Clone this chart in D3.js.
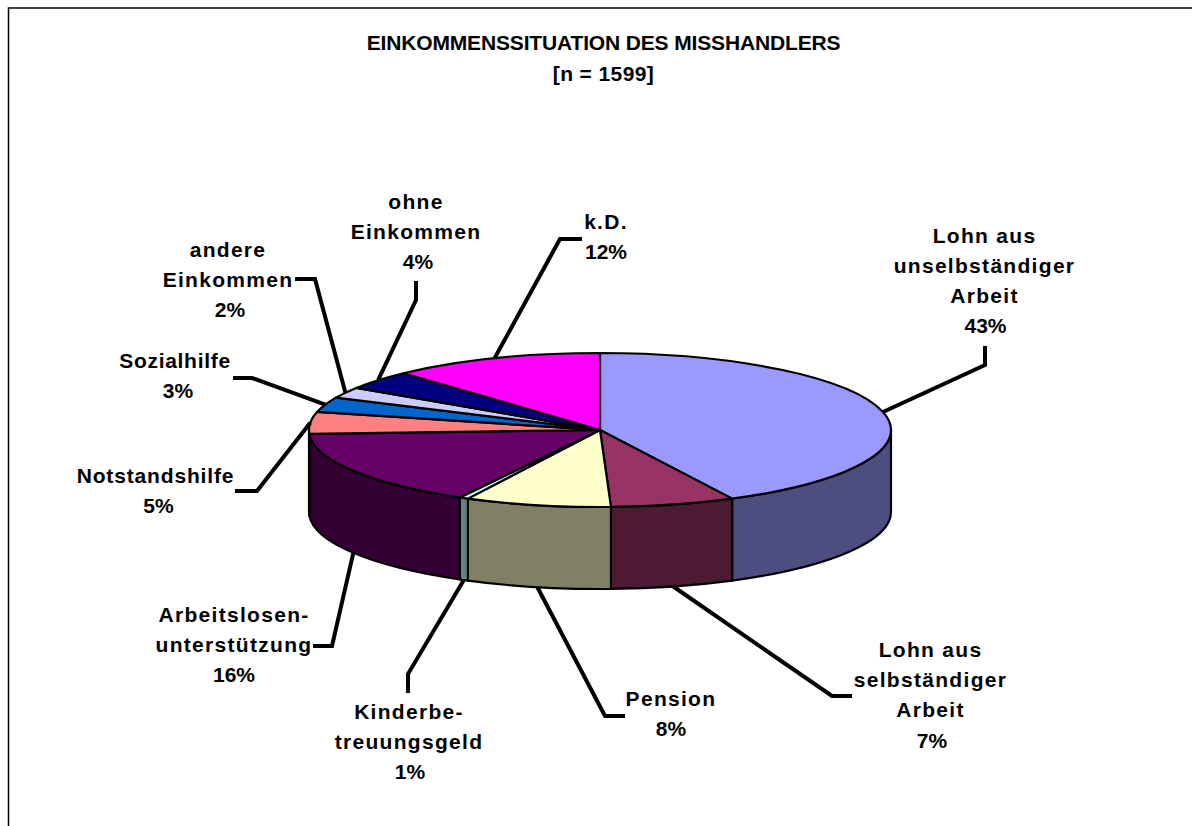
<!DOCTYPE html>
<html>
<head>
<meta charset="utf-8">
<script src="https://cdn.jsdelivr.net/npm/d3@7"></script>
<style>
    html, body { margin: 0; padding: 0; background: #fff; overflow: hidden; }
    text { font-family: "Liberation Sans", Arial, sans-serif; font-weight: bold; fill: #000; }
</style>
</head>
<body>
<div class="myPie"></div>
<script>
// values, in percent (printed labels are rounded)
const categories = ['Lohn aus unselbständiger Arbeit', 'Lohn aus selbständiger Arbeit', 'Pension', 'Kinderbetreuungsgeld',
    'Arbeitslosenunterstützung', 'Notstandshilfe', 'Sozialhilfe', 'andere Einkommen', 'ohne Einkommen', 'k.D.']
const values = [42.5, 6.9, 8.1, 0.5, 16.2, 4.6, 3.1, 2.3, 4.0, 11.8]
const percentLabels = ['43%', '7%', '8%', '1%', '16%', '5%', '3%', '2%', '4%', '12%']
const labelLines = [
    ['Lohn aus', 'unselbständiger', 'Arbeit'],
    ['Lohn aus', 'selbständiger', 'Arbeit'],
    ['Pension'],
    ['Kinderbe-', 'treuungsgeld'],
    ['Arbeitslosen-', 'unterstützung'],
    ['Notstandshilfe'],
    ['Sozialhilfe'],
    ['andere', 'Einkommen'],
    ['ohne', 'Einkommen'],
    ['k.D.']
]
const titleLines = ['EINKOMMENSSITUATION DES MISSHANDLERS', '[n = 1599]']

// styles and layout
const topColors = ['#9999FF', '#993366', '#FFFFCC', '#CCFFFF', '#660066', '#FF8080', '#0066CC', '#CCCCFF', '#000080', '#FF00FF']
const sideColors = ['#4D4D80', '#4D1A33', '#808066', '#668080', '#330033', '#804040', '#003366', '#666680', '#000040', '#800080']
// label centre x, first baseline, extra x for the percent row
const labelPos = [[984.5, 242.5, 1], [930.5, 657, 1.5], [671, 706, 0], [409, 719, 1], [234, 622, 0], [155.5, 483, 3], [175, 368, 3], [228, 257, 2], [416, 209, 2], [606, 229, 0]]
const labelSpacing = [1.3, 1.3, 1.3, 1.3, 1.3, 0.85, 0.7, 1.3, 1.3, 1.3]
// leader elbow points
const leaderPts = [
    [[985, 365], [985, 346]],
    [[832, 696], [852, 696]],
    [[605, 716], [625, 716]],
    [[408, 674], [408, 693]],
    [[332, 646], [313, 646]],
    [[257, 491], [235, 491]],
    [[252, 378], [233, 378]],
    [[315, 279], [295, 279]],
    [[416, 300], [416, 281]],
    [[560, 239], [582, 239]]
]

const width = 1192, height = 826
const rx = 291, ry = 77, depth = 82
const xScale = d3.scaleLinear().domain([-1, 1]).range([600 - rx, 600 + rx])
const yScale = d3.scaleLinear().domain([-1, 1]).range([430 - ry, 430 + ry])

const svg = d3.select('.myPie').append('svg')
    .attr('width', width)
    .attr('height', height)
    .style('display', 'block')

// frame, cut off at right and bottom like the original
svg.append('path')
    .attr('d', `M8.5,${height}V8H${width}`)
    .attr('fill', 'none')
    .attr('stroke', '#000')
    .attr('stroke-width', 1.5)

const title = svg.append('g')
title.selectAll('text').data(titleLines).enter().append('text')
    .attr('x', 603.5)
    .attr('y', (d, i) => 50 + i * 31)
    .attr('text-anchor', 'middle')
    .style('font-size', '21px')
    .style('letter-spacing', (d, i) => i == 0 ? '-0.15px' : '0.4px')
    .text((d) => d)

const slices = d3.pie().sort(null)(values).map((d, i) => ({ ...d, i }))

const px = (a) => xScale(Math.sin(a))
const py = (a) => yScale(-Math.cos(a))

// side walls: only the part of each slice between 90 and 270 degrees shows
const wall = svg.append('g')
slices.forEach((d) => {
    const a0 = Math.max(d.startAngle, Math.PI / 2)
    const a1 = Math.min(d.endAngle, 3 * Math.PI / 2)
    if (a1 <= a0) return
    const p = `M${px(a0)},${py(a0)}A${rx},${ry} 0 0 1 ${px(a1)},${py(a1)}`
        + `V${py(a1) + depth}A${rx},${ry} 0 0 0 ${px(a0)},${py(a0) + depth}Z`
    wall.append('path')
        .attr('d', p)
        .attr('fill', sideColors[d.i])
        .attr('stroke', '#000')
        .attr('stroke-width', 2.2)
        .attr('stroke-linejoin', 'round')
})

// top faces
svg.append('g').selectAll('path').data(slices).enter().append('path')
    .attr('d', (d) => {
        const big = d.endAngle - d.startAngle > Math.PI ? 1 : 0
        return `M${xScale(0)},${yScale(0)}L${px(d.startAngle)},${py(d.startAngle)}`
            + `A${rx},${ry} 0 ${big} 1 ${px(d.endAngle)},${py(d.endAngle)}Z`
    })
    .attr('fill', (d) => topColors[d.i])
    .attr('stroke', '#000')
    .attr('stroke-width', 2.2)
    .attr('stroke-linejoin', 'round')

// leader lines start at the mid angle of the slice rim
const line = d3.line()
svg.append('g').selectAll('path').data(slices).enter().append('path')
    .attr('d', (d) => {
        const mid = (d.startAngle + d.endAngle) / 2
        const front = mid > Math.PI / 2 && mid < 3 * Math.PI / 2
        return line([[px(mid), py(mid) + (front ? depth : 0)], ...leaderPts[d.i]])
    })
    .attr('fill', 'none')
    .attr('stroke', '#000')
    .attr('stroke-width', 4)

// labels
const labels = svg.append('g').selectAll('text').data(slices).enter().append('text')
    .attr('text-anchor', 'middle')
    .style('font-size', '21px')
labels.each(function (d) {
    const rows = [...labelLines[d.i], percentLabels[d.i]]
    d3.select(this).selectAll('tspan').data(rows).enter().append('tspan')
        .attr('x', (r) => labelPos[d.i][0] + (r.endsWith('%') ? labelPos[d.i][2] : 0))
        .attr('y', (r, k) => labelPos[d.i][1] + k * 30.2)
        .style('letter-spacing', (r) => r.endsWith('%') ? '0' : labelSpacing[d.i] + 'px')
        .text((r) => r)
})
</script>
</body>
</html>
